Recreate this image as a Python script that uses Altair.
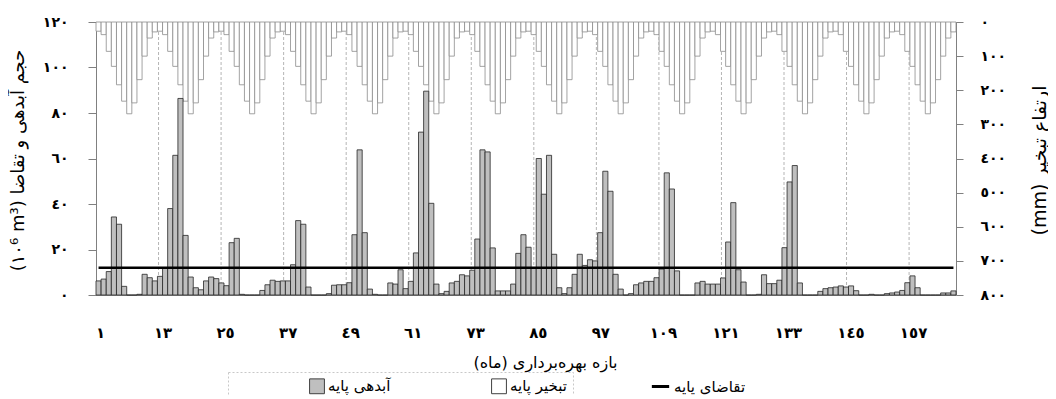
import altair as alt
import pandas as pd

# ---------------- data ----------------
months = list(range(1, 169))

inflow = [
    6.2, 7.0, 10.3, 34.3, 31.1, 3.8, 0, 0, 0.3, 9.1, 7.6, 6.2,
    8.2, 12.0, 38.0, 61.4, 86.4, 26.2, 7.9, 3.2, 2.3, 6.2, 7.9, 7.2,
    5.3, 4.1, 23.0, 24.9, 0.3, 0, 0, 0, 2.0, 4.5, 6.5, 6.0,
    6.2, 6.2, 13.3, 32.7, 31.1, 3.5, 0, 0, 0, 0.6, 4.3, 4.5,
    4.5, 5.4, 26.5, 63.8, 27.4, 2.6, 0.3, 0, 0, 5.3, 4.8, 11.1,
    2.8, 6.0, 18.5, 71.6, 89.6, 40.3, 4.8, 0.6, 1.6, 5.3, 6.0, 8.9,
    8.4, 10.9, 24.6, 63.8, 62.9, 20.7, 1.8, 1.8, 1.8, 4.8, 18.3, 26.5,
    21.0, 12.0, 60.0, 44.3, 61.4, 17.9, 3.2, 0.6, 3.2, 9.1, 17.9, 13.0,
    15.5, 15.0, 27.4, 54.4, 45.6, 9.1, 2.6, 0, 0.6, 4.5, 5.3, 6.0,
    6.0, 7.6, 11.4, 53.7, 46.6, 10.6, 0, 0, 0, 5.3, 6.0, 4.8,
    4.8, 4.8, 7.5, 23.3, 40.6, 11.1, 5.7, 0, 0, 0.3, 8.9, 5.0,
    5.0, 6.5, 20.8, 49.7, 56.9, 5.3, 0, 0, 0, 1.6, 2.8, 3.2,
    3.5, 4.0, 3.5, 4.0, 1.9, 0, 0, 0.3, 0, 0, 0.6, 0.9,
    1.3, 2.0, 5.4, 8.4, 3.2, 0, 0, 0, 0, 0.9, 0.9, 1.8,
]

evaporation = [
    27, 37, 86, 130, 184, 232, 269, 237, 169, 100, 47, 29,
    27, 37, 86, 130, 184, 232, 269, 237, 169, 100, 47, 29,
    27, 37, 86, 130, 184, 232, 269, 237, 169, 100, 47, 29,
    27, 37, 86, 130, 184, 232, 269, 237, 169, 100, 47, 29,
    27, 37, 86, 130, 184, 232, 269, 237, 169, 100, 47, 29,
    27, 37, 86, 130, 184, 232, 269, 237, 169, 100, 47, 29,
    27, 37, 86, 130, 184, 232, 269, 237, 169, 100, 47, 29,
    27, 37, 86, 130, 184, 232, 269, 237, 169, 100, 47, 29,
    27, 37, 86, 130, 184, 232, 269, 237, 169, 100, 47, 29,
    27, 37, 86, 130, 184, 232, 269, 237, 169, 100, 47, 29,
    27, 37, 86, 130, 184, 232, 269, 237, 169, 100, 47, 29,
    27, 37, 86, 130, 184, 232, 269, 237, 169, 100, 47, 29,
    27, 37, 86, 130, 184, 232, 269, 237, 169, 100, 47, 29,
    27, 37, 86, 130, 184, 232, 269, 237, 169, 100, 47, 29,
]

demand = [12.0] * len(months)

x_label_values = [1, 13, 25, 37, 49, 61, 73, 85, 97, 109, 121, 133, 145, 157]
grid_values = [13, 25, 37, 49, 61, 73, 85, 97, 109, 121, 133, 145, 157]
left_ticks = [0, 20, 40, 60, 80, 100, 120]
right_ticks = [0, 100, 200, 300, 400, 500, 600, 700, 800]

series_names = ["آبدهی پایه", "تبخیر پایه", "تقاضای پایه"]
series_colors = ["#bfbfbf", "#ffffff", "#000000"]

title_left = "(۱۰⁶ m³) حجم آبدهی و تقاضا"
title_right = "(mm) ارتفاع تبخیر"
title_x = "بازه بهره‌برداری (ماه)\u200f"

# ---------------- helpers ----------------
AR = "٠١٢٣٤٥٦٧٨٩"


def ar_expr(src):
    e = src
    for d, a in enumerate(AR):
        e = f"replace({e}, regexp('{d}', 'g'), '{a}')"
    return e


NUM_FONT = "DejaVu Sans"
TXT_FONT = "DejaVu Sans"
TXT_W = "normal"
NB = "\u00a0"

base_df = pd.DataFrame({
    "m": months,
    "x0": [m - 1 for m in months],
    "x1": months,
    "xc": [m - 0.5 for m in months],
    "inflow": inflow,
    "evap": evaporation,
    "demand": demand,
})
inflow_df = base_df.assign(series=series_names[0])
evap_df = base_df.assign(series=series_names[1])
demand_df = base_df.assign(series=series_names[2])
grid_df = pd.DataFrame({"g": grid_values})

x_scale = alt.Scale(domain=[0, 168], nice=False, zero=False)
y_left = alt.Scale(domain=[0, 120], nice=False)
y_right = alt.Scale(domain=[0, 800], nice=False, reverse=True)
fill_scale = alt.Scale(domain=series_names[:2], range=series_colors[:2])
stroke_scale = alt.Scale(domain=series_names[2:], range=series_colors[2:])

common_legend = dict(
    orient="none",
    direction="horizontal",
    labelFont=TXT_FONT,
    labelFontSize=15,
    labelFontWeight=TXT_W,
    labelColor="#000",
    labelLimit=600,
    labelOffset=3,
    padding=6,
)

fill_legend = alt.Legend(
    legendX=132,
    legendY=350,
    title="m" * 6,
    titleFont="Liberation Serif",
    titleFontSize=15,
    titleFontWeight="bold",
    titleOpacity=0,
    titleOrient="left",
    titlePadding=0,
    symbolType="square",
    symbolSize=220,
    symbolStrokeWidth=1,
    symbolStrokeColor="#404040",
    columnPadding=98,
    labelExpr=(
        "datum.label == '" + series_names[1] + "' ? datum.label + '" + NB * 56
        + "' : datum.label"
    ),
    **common_legend,
)

stroke_legend = alt.Legend(
    legendX=548,
    legendY=348,
    title=None,
    symbolType="stroke",
    symbolSize=300,
    symbolStrokeWidth=3,
    strokeColor="transparent",
    **common_legend,
)

grid_layer = alt.Chart(grid_df).mark_rule(
    color="#b5b5b5", strokeWidth=1, strokeDash=[3, 2]
).encode(
    x=alt.X(
        "g:Q",
        scale=alt.Scale(domain=[1, 166], nice=False, zero=False),
        axis=alt.Axis(
            values=x_label_values,
            labelExpr=ar_expr("'' + datum.value"),
            orient="bottom",
            domain=False,
            ticks=False,
            grid=False,
            labelPadding=30,
            labelOffset=4,
            labelFont=NUM_FONT,
            labelFontSize=15,
            labelFontWeight="bold",
            labelColor="#000",
            labelFlush=False,
            labelOverlap=False,
            title=title_x,
            titleFont=TXT_FONT,
            titleFontSize=16,
            titleFontWeight=TXT_W,
            titleColor="#000",
            titleX=449,
            titleY=67,
            titleBaseline="middle",
        ),
    )
)

evap_layer = alt.Chart(evap_df).mark_bar(stroke="#8c8c8c", strokeWidth=0.8).encode(
    x=alt.X("x0:Q", scale=x_scale, axis=None),
    x2="x1:Q",
    y=alt.Y(
        "evap:Q",
        scale=y_right,
        stack=None,
        axis=alt.Axis(
            orient="right",
            values=right_ticks,
            labelExpr=ar_expr("'' + datum.value"),
            grid=False,
            tickSize=7,
            tickColor="#808080",
            domainColor="#808080",
            labelPadding=17,
            labelFont=NUM_FONT,
            labelFontSize=14,
            labelFontWeight="bold",
            labelColor="#000",
            title=title_right,
            titleFont=TXT_FONT,
            titleFontSize=19,
            titleFontWeight=TXT_W,
            titleColor="#000",
            titleAngle=-90,
            titleX=83,
            titleY=138,
            titleBaseline="middle",
            titleAlign="center",
        ),
    ),
    y2=alt.datum(0),
    fill=alt.Fill("series:N", scale=fill_scale, legend=fill_legend),
)

inflow_layer = alt.Chart(inflow_df).mark_bar(stroke="#262626", strokeWidth=0.8).encode(
    x=alt.X("x0:Q", scale=x_scale, axis=None),
    x2="x1:Q",
    y=alt.Y(
        "inflow:Q",
        scale=y_left,
        stack=None,
        axis=alt.Axis(
            orient="left",
            values=left_ticks,
            labelExpr=ar_expr("'' + datum.value"),
            grid=False,
            tickSize=8,
            tickColor="#808080",
            domainColor="#808080",
            labelPadding=20,
            labelFont=NUM_FONT,
            labelFontSize=14,
            labelFontWeight="bold",
            labelColor="#000",
            title=title_left,
            titleFont=TXT_FONT,
            titleFontSize=18,
            titleFontWeight=TXT_W,
            titleColor="#000",
            titleAngle=-90,
            titleX=-78,
            titleY=138,
            titleBaseline="middle",
            titleAlign="center",
        ),
    ),
    y2=alt.datum(0),
    fill=alt.Fill("series:N", scale=fill_scale, legend=fill_legend),
)

demand_layer = alt.Chart(demand_df).mark_line(strokeWidth=2.6).encode(
    x=alt.X("xc:Q", scale=x_scale, axis=None),
    y=alt.Y("demand:Q", scale=y_left, axis=None),
    stroke=alt.Stroke("series:N", scale=stroke_scale, legend=stroke_legend),
)

chart = (
    alt.layer(grid_layer, evap_layer, inflow_layer, demand_layer)
    .resolve_scale(x="independent", y="independent")
    .properties(
        width=860,
        height=273,
        autosize=alt.AutoSizeParams(type="none"),
        padding={"left": 88, "top": 14, "right": 92, "bottom": 100},
    )
    .configure_view(stroke="#8c8c8c", strokeWidth=1)
    .configure_legend(strokeDash=[2, 2], strokeColor="#c8c8c8")
)

chart.save("out.html", embed_options={"renderer": "svg", "actions": False})
